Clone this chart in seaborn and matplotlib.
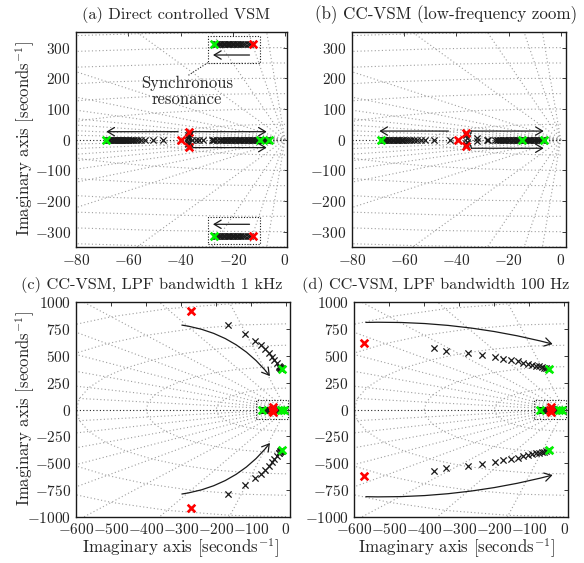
import numpy as np
import matplotlib
matplotlib.use("Agg")
import matplotlib.pyplot as plt
import seaborn as sns
from matplotlib.patches import Rectangle, FancyArrowPatch

# ---------------- data ----------------
# Panel (a): direct controlled VSM
A_LEFT_RED = [-40.0]
A_LEFT = [-46.6, -50.6, -53.5, -55.2, -56.3, -57.1, -57.8, -58.4, -59.0, -59.5, -60.0,
          -60.5, -60.9, -61.3, -61.7, -62.1, -62.5, -62.9, -63.3, -63.7, -64.1, -64.5,
          -64.9, -65.3, -65.7, -66.1, -66.5, -66.9, -67.3, -67.7, -68.1]
A_LEFT_GREEN = [-68.5]
A_PAIR_RED_X, A_PAIR_RED_Y = [-36.8], [24.5]
A_PAIR_X = [-36.9, -37.0, -37.1, -37.1]
A_PAIR_Y = [19.5, 14.5, 9.5, 4.5]
A_AXIS = [-35.6, -34.3, -32.8, -31.5, -28.0, -27.6, -27.2, -25.9, -25.1, -24.4, -23.8,
          -23.2, -22.7, -22.2, -21.7, -21.2, -20.7, -20.2, -19.7, -19.2, -18.7, -18.2,
          -17.7, -17.2, -16.7, -16.2, -15.7, -15.2, -14.7, -14.2, -13.7, -13.2, -12.7,
          -12.2, -11.7, -11.2, -10.7, -10.2, -9.2, -8.8, -8.4, -8.0, -7.6, -7.2, -6.8, -6.4]
A_AXIS_GREEN = [-9.7, -6.0]
A_SYNC_Y = 313
A_SYNC_RED = [-12.4]
A_SYNC = [-13.4, -14.3, -15.2, -16.0, -16.7, -17.3, -17.9, -18.4, -18.9, -19.4, -19.9,
          -20.4, -20.9, -21.4, -21.9, -22.4, -22.9, -23.4, -23.9, -24.4, -24.9, -25.4,
          -25.9, -26.4, -26.9]
A_SYNC_GREEN = [-27.4]

# Panel (b): CC-VSM low-frequency poles (also the clusters in c and d)
B_LEFT_RED = [-39.3]
B_LEFT = [-42.5, -48.6, -52.0, -53.6, -55.0, -56.2, -57.3, -58.2, -59.0, -59.7, -60.3,
          -60.8, -61.3, -61.8, -62.3, -62.8, -63.3, -63.8, -64.3, -64.8, -65.3, -65.8,
          -66.3, -66.8, -67.3, -67.8, -68.2, -68.6]
B_LEFT_GREEN = [-69.0]
B_PAIR_RED_X, B_PAIR_RED_Y = [-36.4], [21.0]
B_PAIR_X = [-36.3, -36.1, -32.0]
B_PAIR_Y = [14.5, 7.0, 4.0]
B_AXIS = [-28.3, -27.8, -25.3, -24.6, -24.0, -23.4, -22.8, -22.3, -21.8, -21.3, -20.8,
          -20.3, -19.8, -19.3, -18.8, -18.3, -17.8, -17.3, -16.8, -16.3, -15.8, -15.3,
          -14.2, -13.7, -13.2, -12.7, -12.2, -11.7, -11.2, -10.7, -10.2, -9.7, -9.2,
          -8.7, -8.2, -7.7, -7.2, -6.8]
B_AXIS_GREEN = [-14.7, -6.4]

# Panel (c): LPF bandwidth 1 kHz, high-frequency pair
C_RED_X, C_RED_Y = [-272], [919]
C_X = [-167, -117, -89, -71.5, -59, -49.5, -41, -33.5, -26.6, -21, -19, -17.5, -16.3,
       -15.2, -14.2, -13.3]
C_Y = [788, 701, 642, 602, 561, 524, 493, 462, 431, 409, 401, 395, 390, 386, 383, 380]
C_GREEN_X, C_GREEN_Y = [-12.3], [378]

# Panel (d): LPF bandwidth 100 Hz, high-frequency pair
D_RED_X, D_RED_Y = [-572], [623]
D_X = [-373, -337, -275, -234, -199, -175, -152, -133, -119, -104, -92, -80, -71, -63,
       -57, -52, -47]
D_Y = [571, 546, 524, 505, 487, 475, 462, 450, 437, 428, 419, 410, 404, 398, 392, 386, 379]
D_GREEN_X, D_GREEN_Y = [-44.5], [375]

TITLES = ["(a) Direct controlled VSM", "(b) CC-VSM (low-frequency zoom)",
          "(c) CC-VSM, LPF bandwidth 1 kHz", "(d) CC-VSM, LPF bandwidth 100 Hz"]
AXIS_LABEL = "Imaginary axis [seconds$^{-1}$]"
TICKS_X_LOW = [-80, -60, -40, -20, 0]
TICKS_Y_LOW = [-300, -200, -100, 0, 100, 200, 300]
TICKS_X_HIGH = [-600, -500, -400, -300, -200, -100, 0]
TICKS_Y_HIGH = [-1000, -750, -500, -250, 0, 250, 500, 750, 1000]

# ---------------- style ----------------
sns.set_theme(style="white")
plt.rcParams["font.family"] = ["cmr10", "DejaVu Serif"]
plt.rcParams["mathtext.fontset"] = "cm"
plt.rcParams["axes.formatter.use_mathtext"] = True
plt.rcParams["axes.unicode_minus"] = True

GRID_C = "0.62"
RED = (1.0, 0.0, 0.0)
GREEN = (0.0, 0.95, 0.0)
W, H = 584, 563

fig = plt.figure(figsize=(5.84, 5.63), dpi=100)
ax_a = fig.add_axes([0.1307, 0.5613, 0.3613, 0.3813])
ax_b = fig.add_axes([0.6027, 0.5613, 0.3659, 0.3813])
ax_c = fig.add_axes([0.1307, 0.0822, 0.3659, 0.3807])
ax_d = fig.add_axes([0.6067, 0.0822, 0.3652, 0.3807])


def sgrid(ax, zetas, wns, R):
    full = [0.0] + sorted(zetas) + [1.0]
    for z in zetas:
        wd = np.sqrt(1 - z ** 2)
        for s in (1, -1):
            ax.plot([0, -z * R], [0, s * wd * R], ls=(0, (1, 2.2)), color=GRID_C,
                    lw=0.8, zorder=1)
    for wn in wns:
        xs = [-z * wn for z in full]
        ys = [np.sqrt(1 - z ** 2) * wn for z in full]
        for s in (1, -1):
            ax.plot(xs, [s * y for y in ys], ls=(0, (1, 2.2)), color=GRID_C, lw=0.8,
                    zorder=1)
    ax.axhline(0, ls=(0, (1, 2)), color="0.15", lw=0.8, zorder=1)


def marks(ax, xs, ys, color, big=False, mirror=False):
    xs = list(xs)
    ys = list(ys)
    if mirror:
        xs = xs + xs
        ys = ys + [-y for y in ys]
    sns.scatterplot(x=xs, y=ys, marker="x", color=color, s=30 if big else 20,
                    linewidth=1.9 if big else 0.9, ax=ax, zorder=5 if big else 4,
                    legend=False)


def arrow(ax, p0, p1, rad=0.0):
    a = FancyArrowPatch(p0, p1, arrowstyle="->,head_length=5,head_width=3",
                        connectionstyle=f"arc3,rad={rad}", color="k", lw=0.9,
                        zorder=6, shrinkA=0, shrinkB=0)
    ax.add_patch(a)


def hook(ax, x0, y0, x1, y1):
    ax.plot([x0, x1], [y0, y1], color="k", lw=0.9, zorder=6)


def low_cluster(ax, left_red, left, left_green, pr_x, pr_y, p_x, p_y, axis, axis_green):
    marks(ax, left, [0] * len(left), "k")
    marks(ax, p_x, p_y, "k", mirror=True)
    marks(ax, axis, [0] * len(axis), "k")
    marks(ax, left_red, [0], RED, big=True)
    marks(ax, pr_x, pr_y, RED, big=True, mirror=True)
    marks(ax, left_green, [0], GREEN, big=True)
    marks(ax, axis_green, [0] * len(axis_green), GREEN, big=True)


ZETA_LOW = [0.02, 0.04, 0.08, 0.16, 0.34, 0.5, 0.64, 0.76, 0.86, 0.94, 0.985]
WN_LOW = [50, 100, 150, 200, 250, 300, 350, 400]
ZETA_HIGH = [0.16, 0.34, 0.5, 0.64, 0.76, 0.86, 0.94, 0.985]
WN_HIGH = [200, 400, 600, 800, 1000, 1200]

# ---------------- (a) ----------------
ax = ax_a
sgrid(ax, ZETA_LOW, WN_LOW, 3000)
low_cluster(ax, A_LEFT_RED, A_LEFT, A_LEFT_GREEN, A_PAIR_RED_X, A_PAIR_RED_Y,
            A_PAIR_X, A_PAIR_Y, A_AXIS, A_AXIS_GREEN)
marks(ax, A_SYNC, [A_SYNC_Y] * len(A_SYNC), "k", mirror=True)
marks(ax, A_SYNC_RED, [A_SYNC_Y], RED, big=True, mirror=True)
marks(ax, A_SYNC_GREEN, [A_SYNC_Y], GREEN, big=True, mirror=True)
arrow(ax, (-41.0, 26), (-68.5, 26))
for s in (1, -1):
    hook(ax, -35.8, s * 17, -35.2, s * 26)
    arrow(ax, (-35.2, s * 26), (-7.0, s * 26))
    ax.add_patch(Rectangle((-29.6, 251 if s > 0 else -339), 20.0, 88, fill=False,
                           ls=(0, (1, 1.5)), lw=0.8, ec="k", zorder=6))
    arrow(ax, (-13.6, s * 276), (-27.6, s * 276))
ax.plot([-37.0, -29.6], [210, 251], ls=(0, (1, 1.5)), color="k", lw=0.8, zorder=6)
ann = ax.text(-37.5, 158, "Synchronous\nresonance", ha="center", va="center",
              fontsize=12, linespacing=1.0, zorder=7)
ax.set_xlim(-80, 0.9)
ax.set_ylim(-350, 350)
ax.set_xticks(TICKS_X_LOW)
ax.set_yticks(TICKS_Y_LOW)

# ---------------- (b) ----------------
ax = ax_b
sgrid(ax, ZETA_LOW, WN_LOW, 3000)
low_cluster(ax, B_LEFT_RED, B_LEFT, B_LEFT_GREEN, B_PAIR_RED_X, B_PAIR_RED_Y,
            B_PAIR_X, B_PAIR_Y, B_AXIS, B_AXIS_GREEN)
arrow(ax, (-43.0, 28), (-69.5, 28))
for s in (1, -1):
    hook(ax, -34.6, s * 18, -34.2, s * 28)
    arrow(ax, (-34.2, s * 28), (-6.5, s * 28))
ax.set_xlim(-80, 1.9)
ax.set_ylim(-350, 350)
ax.set_xticks(TICKS_X_LOW)
ax.set_yticks(TICKS_Y_LOW)

# ---------------- (c) and (d) ----------------
for ax, rx, ry, bx, by, gx, gy, xr, arr in [
        (ax_c, C_RED_X, C_RED_Y, C_X, C_Y, C_GREEN_X, C_GREEN_Y, 11.4,
         [((-298, 788), (-46, 312), -0.2)]),
        (ax_d, D_RED_X, D_RED_Y, D_X, D_Y, D_GREEN_X, D_GREEN_Y, 9.7,
         [((-567, 813), (-33, 611), -0.07)])]:
    sgrid(ax, ZETA_HIGH, WN_HIGH, 6000)
    low_cluster(ax, B_LEFT_RED, B_LEFT, B_LEFT_GREEN, B_PAIR_RED_X, B_PAIR_RED_Y,
                B_PAIR_X, B_PAIR_Y, B_AXIS, B_AXIS_GREEN)
    marks(ax, bx, by, "k", mirror=True)
    marks(ax, rx, ry, RED, big=True, mirror=True)
    marks(ax, gx, gy, GREEN, big=True, mirror=True)
    for (p0, p1, rad) in arr:
        arrow(ax, p0, p1, rad)
        arrow(ax, (p0[0], -p0[1]), (p1[0], -p1[1]), -rad)
    ax.add_patch(Rectangle((-85, -85), 90, 170, fill=False, ls=(0, (1, 1.5)), lw=0.8,
                           ec="k", zorder=6))
    ax.set_xlim(-600, xr)
    ax.set_ylim(-1000, 1000)
    ax.set_xticks(TICKS_X_HIGH)
    ax.set_yticks(TICKS_Y_HIGH)

# ---------------- common formatting ----------------
for ax in [ax_a, ax_b, ax_c, ax_d]:
    ax.tick_params(direction="in", top=True, right=True, length=3, width=0.6,
                   labelsize=11, pad=4, color="k")
    for sp in ax.spines.values():
        sp.set_color("k")
        sp.set_linewidth(1.0)
    ax.set_facecolor("white")

# titles and axis labels placed as in the reference (pixel centres, target sizes)
texts = []
for t, cx, cy, tw in zip(TITLES, [176, 446, 152, 436], [15, 15, 285, 285],
                         [188, 262, 261, 268]):
    texts.append((fig.text(cx / W, 1 - cy / H, t, ha="center", va="center",
                           fontsize=12), tw, "w"))
for cy in [139, 409]:
    texts.append((fig.text(25 / W, 1 - cy / H, AXIS_LABEL, ha="center", va="center",
                           rotation=90, fontsize=12), 195, "h"))
for cx in [180, 456]:
    texts.append((fig.text(cx / W, 1 - 548 / H, AXIS_LABEL, ha="center", va="center",
                           fontsize=12), 197, "w"))

fig.canvas.draw()
rend = fig.canvas.get_renderer()
for txt, target, dim in texts:
    bb = txt.get_window_extent(rend)
    cur = bb.width if dim == "w" else bb.height
    txt.set_fontsize(txt.get_fontsize() * target / cur)

fig.savefig("out.png", dpi=100, facecolor="white")
